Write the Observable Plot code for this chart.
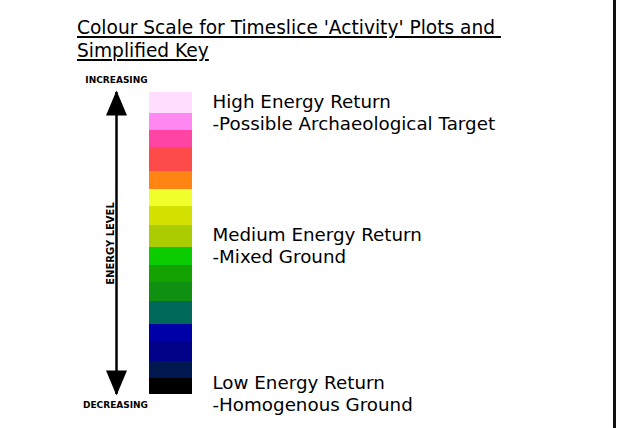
<!DOCTYPE html>
<html>
<head>
<meta charset="utf-8">
<script src="https://cdn.jsdelivr.net/npm/d3@7"></script>
<script src="https://cdn.jsdelivr.net/npm/@observablehq/plot@0.6"></script>
<style>
  html, body { margin: 0; padding: 0; background: #fff; }
  #wrap { position: relative; width: 620px; height: 428px; overflow: hidden; background: #fff; }
  #title { position: absolute; left: 77px; top: 17px; font-family: "DejaVu Sans", Verdana, sans-serif;
           font-size: 18.6px; line-height: 22.5px; color: #000; white-space: pre; }
  #title span { text-decoration: underline; text-decoration-thickness: 2px; text-underline-offset: 2px; }
  #chart { position: absolute; left: 0; top: 70px; }
  #edge { position: absolute; left: 613px; top: 0; width: 3px; height: 428px; background: #111; }
</style>
</head>
<body>
<div id="wrap">
  <div id="title"></div>
  <div id="chart"></div>
  <div id="edge"></div>
</div>
<script>
// ---- data ----
const titleLines = ["Colour Scale for Timeslice 'Activity' Plots and ", "Simplified Key"];

// colour bands, top (highest energy) to bottom (lowest energy)
const bandColours = [
  "#FFDDFF", "#FF88F2", "#FF44A4", "#FF4A4A", "#FF8412", "#F0FF2C",
  "#D4E000", "#AACC00", "#0ACC00", "#14A200", "#0F9010", "#006858",
  "#0000A8", "#000088", "#001850", "#000000"
];
// relative energy level at the top of each band, and the floor of the scale
const bandTops = [302, 281, 264, 247, 223, 205, 188, 169, 147, 129, 112, 93, 70, 53, 33, 16];
const scaleFloor = 0;

const keyText = [
  "High Energy Return\n-Possible Archaeological Target",
  "Medium Energy Return\n-Mixed Ground",
  "Low Energy Return\n-Homogenous Ground"
];
const keyLevels = [302, 169, 21];

const axisWords = ["INCREASING", "ENERGY LEVEL", "DECREASING"];

// ---- build ----
document.getElementById("title").innerHTML =
  titleLines.map(t => `<span>${t}</span>`).join("<br>");

const bands = bandColours.map((c, i) => ({
  colour: c,
  hi: bandTops[i],
  lo: i + 1 < bandTops.length ? bandTops[i + 1] : scaleFloor
}));
const scaleTop = d3.max(bandTops);
const keys = keyText.map((t, i) => ({text: t, level: keyLevels[i]}));

const arrowUp = {draw(ctx) { ctx.moveTo(0, 0); ctx.lineTo(-10.5, 25); ctx.lineTo(10.5, 25); ctx.closePath(); }};
const arrowDown = {draw(ctx) { ctx.moveTo(0, 0); ctx.lineTo(-10.5, -25); ctx.lineTo(10.5, -25); ctx.closePath(); }};

const sans = "DejaVu Sans, Verdana, sans-serif";

const chart = Plot.plot({
  width: 612,
  height: 358,
  margin: 0,
  x: {domain: [0, 1], range: [149, 192], axis: null},
  y: {domain: [scaleFloor, scaleTop], range: [324, 22], axis: null},
  color: {type: "identity"},
  marks: [
    Plot.rect(bands, {x1: () => 0, x2: () => 1, y1: "lo", y2: "hi", fill: "colour"}),
    Plot.ruleX([0], {x: d => d, y1: () => scaleFloor, y2: () => scaleTop, dx: -33, stroke: "#000", strokeWidth: 2.5}),
    Plot.dot([scaleTop], {x: () => 0, y: d => d, symbol: arrowUp, fill: "#000", dx: -33, dy: -2, r: 5}),
    Plot.dot([scaleFloor], {x: () => 0, y: d => d, symbol: arrowDown, fill: "#000", dx: -33, dy: 1, r: 5}),
    Plot.text([axisWords[0]], {x: () => 0, y: () => scaleTop, text: d => d, dx: -33, dy: -12,
      fontFamily: sans, fontWeight: "bold", fontSize: 9, fill: "#000", textAnchor: "middle"}),
    Plot.text([axisWords[2]], {x: () => 0, y: () => scaleFloor, text: d => d, dx: -34, dy: 11,
      fontFamily: sans, fontWeight: "bold", fontSize: 9, fill: "#000", textAnchor: "middle"}),
    Plot.text([axisWords[1]], {x: () => 0, y: () => (scaleTop + scaleFloor) / 2, text: d => d, dx: -39,
      rotate: -90, fontFamily: sans, fontWeight: "bold", fontSize: 10, fill: "#000", textAnchor: "middle"}),
    Plot.text(keys, {x: () => 1, y: "level", text: "text", dx: 20, textAnchor: "start", lineAnchor: "top",
      lineHeight: 1.2, fontFamily: sans, fontSize: 18.3, fill: "#000"})
  ]
});
document.getElementById("chart").appendChild(chart);
</script>
</body>
</html>
